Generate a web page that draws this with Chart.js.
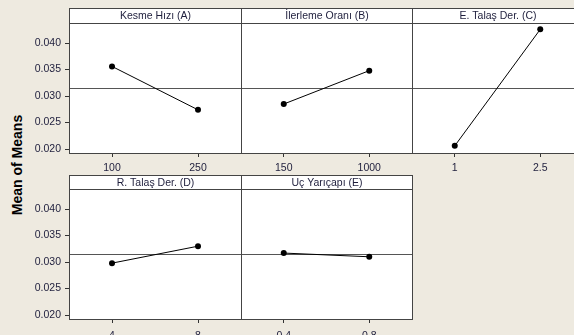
<!DOCTYPE html>
<html>
<head>
<meta charset="utf-8">
<script src="https://cdn.jsdelivr.net/npm/chart.js@4.4.1/dist/chart.umd.min.js"></script>
<style>
  html, body { margin: 0; padding: 0; }
  body {
    width: 574px;
    height: 335px;
    overflow: hidden;
    position: relative;
    background: #eeeae0;
    font-family: "Liberation Sans", Arial, sans-serif;
  }
  .panel { position: absolute; }
  .panel canvas { display: block; }
  #yTitle {
    position: absolute;
    left: 17px;
    top: 165px;
    transform: translate(-50%, -50%) rotate(-90deg);
    font-weight: bold;
    font-size: 14px;
    white-space: nowrap;
    color: #000;
  }
</style>
</head>
<body>
<div id="yTitle">Mean of Means</div>
<div class="panel" style="left:0;top:0"><canvas id="cA" width="242" height="175"></canvas></div>
<div class="panel" style="left:240px;top:0"><canvas id="cB" width="173" height="175"></canvas></div>
<div class="panel" style="left:411px;top:0"><canvas id="cC" width="173" height="175"></canvas></div>
<div class="panel" style="left:0;top:166px"><canvas id="cD" width="242" height="169"></canvas></div>
<div class="panel" style="left:240px;top:166px"><canvas id="cE" width="173" height="169"></canvas></div>
<script>
  "use strict";

  // main effects data
  const factorTitles = [
    "Kesme Hızı (A)",
    "İlerleme Oranı (B)",
    "E. Talaş Der. (C)",
    "R. Talaş Der. (D)",
    "Uç Yarıçapı (E)"
  ];
  const levelsA = ["100", "250"];
  const meansA = [0.0356, 0.0274];
  const levelsB = ["150", "1000"];
  const meansB = [0.0285, 0.0348];
  const levelsC = ["1", "2.5"];
  const meansC = [0.0206, 0.0426];
  const levelsD = ["4", "8"];
  const meansD = [0.0298, 0.0330];
  const levelsE = ["0.4", "0.8"];
  const meansE = [0.0317, 0.0310];

  const grandMean = 0.0316;
  const yTicks = [0.020, 0.025, 0.030, 0.035, 0.040];
  const yMin = 0.01925;
  const yMax = 0.0438;

  const TEXT_COLOR = "#1e1e3c";
  const FRAME_COLOR = "#444";
  const FONT = "'Liberation Sans', Arial, sans-serif";

  const panelFrame = {
    id: "panelFrame",
    beforeDraw(chart, args, opts) {
      const a = chart.chartArea;
      const ctx = chart.ctx;
      ctx.save();
      ctx.fillStyle = "#fff";
      ctx.fillRect(a.left, a.top - opts.headerH, a.right - a.left, a.bottom - a.top + opts.headerH);
      ctx.restore();
    },
    beforeDatasetsDraw(chart, args, opts) {
      const a = chart.chartArea;
      const ctx = chart.ctx;
      const l = Math.round(a.left) + 0.5;
      const r = Math.round(a.right) + 0.5;
      const t = Math.round(a.top) + 0.5;
      const b = Math.round(a.bottom) + 0.5;
      const h = opts.headerH;
      ctx.save();
      // grand mean reference line
      const ry = Math.round(chart.scales.y.getPixelForValue(grandMean)) + 0.5;
      ctx.strokeStyle = "#555";
      ctx.lineWidth = 1;
      ctx.beginPath();
      ctx.moveTo(l, ry);
      ctx.lineTo(r, ry);
      ctx.stroke();
      // frame + header strip
      ctx.strokeStyle = FRAME_COLOR;
      ctx.strokeRect(l, t - h, r - l, b - t + h);
      ctx.beginPath();
      ctx.moveTo(l, t);
      ctx.lineTo(r, t);
      ctx.stroke();
      ctx.fillStyle = TEXT_COLOR;
      ctx.font = "10.5px " + FONT;
      ctx.textAlign = "center";
      ctx.textBaseline = "middle";
      ctx.fillText(opts.title, (l + r) / 2, t - h / 2 + 0.5);
      ctx.restore();
    }
  };

  function makePanel(canvasId, title, levels, means, p) {
    const canvas = document.getElementById(canvasId);
    return new Chart(canvas, {
      type: "line",
      data: {
        labels: levels,
        datasets: [
          {
            data: means,
            borderColor: "#000",
            borderWidth: 1,
            backgroundColor: "#000",
            pointRadius: 3,
            pointHoverRadius: 3,
            pointBorderWidth: 0,
            fill: false,
            tension: 0
          }
        ]
      },
      options: {
        responsive: false,
        animation: false,
        events: [],
        layout: {
          autoPadding: false,
          padding: { top: p.padTop, left: p.showY ? 0 : 1, right: 1, bottom: 0 }
        },
        plugins: {
          legend: { display: false },
          tooltip: { enabled: false },
          panelFrame: { title: title, headerH: p.headerH }
        },
        scales: {
          x: {
            type: "category",
            offset: true,
            border: { display: false },
            grid: {
              display: true,
              drawOnChartArea: false,
              drawTicks: true,
              tickLength: 4,
              color: "#333"
            },
            ticks: {
              color: TEXT_COLOR,
              padding: p.xPad,
              maxRotation: 0,
              font: { family: FONT, size: 10.5 }
            },
            afterFit: function (scale) {
              scale.height = p.xHeight;
            }
          },
          y: {
            display: p.showY,
            min: yMin,
            max: yMax,
            border: { display: false },
            grid: {
              display: true,
              drawOnChartArea: false,
              drawTicks: true,
              tickLength: 4,
              color: "#333"
            },
            ticks: {
              color: TEXT_COLOR,
              padding: 4,
              font: { family: FONT, size: 10.5 },
              callback: function (v) {
                return Number(v).toFixed(3);
              }
            },
            afterBuildTicks: function (scale) {
              scale.ticks = yTicks.map(function (v) {
                return { value: v };
              });
            },
            afterFit: function (scale) {
              scale.width = p.showY ? 69 : 0;
            }
          }
        }
      },
      plugins: [panelFrame]
    });
  }

  const topRow = { padTop: 23, headerH: 15, xHeight: 22, xPad: 5 };
  const bottomRow = { padTop: 23, headerH: 14, xHeight: 16, xPad: 7 };

  makePanel("cA", factorTitles[0], levelsA, meansA, Object.assign({ showY: true }, topRow));
  makePanel("cB", factorTitles[1], levelsB, meansB, Object.assign({ showY: false }, topRow));
  makePanel("cC", factorTitles[2], levelsC, meansC, Object.assign({ showY: false }, topRow));
  makePanel("cD", factorTitles[3], levelsD, meansD, Object.assign({ showY: true }, bottomRow));
  makePanel("cE", factorTitles[4], levelsE, meansE, Object.assign({ showY: false }, bottomRow));
</script>
</body>
</html>
